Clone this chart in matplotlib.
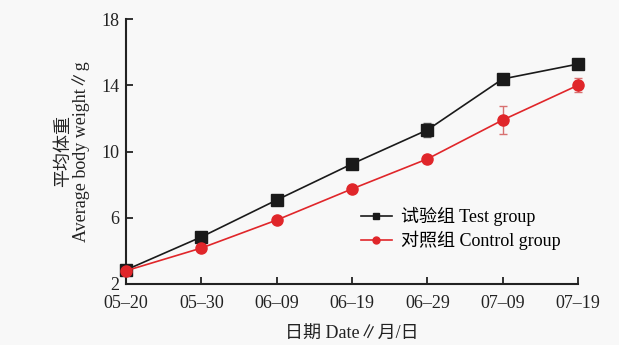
import matplotlib
matplotlib.use("Agg")
import matplotlib.pyplot as plt
from matplotlib.lines import Line2D

dates = ["05\u201320", "05\u201330", "06\u201309", "06\u201319", "06\u201329", "07\u201309", "07\u201319"]
test_vals = [2.85, 4.84, 7.07, 9.25, 11.3, 14.38, 15.28]
test_err = [0.15, 0.1, 0.1, 0.1, 0.4, 0.1, 0.1]
ctrl_vals = [2.8, 4.17, 5.86, 7.74, 9.55, 11.9, 14.0]
ctrl_err = [0.1, 0.1, 0.1, 0.1, 0.25, 0.85, 0.42]
yticks = [2, 6, 10, 14, 18]
labels = ['试验组 Test group', '对照组 Control group']

plt.rcParams['font.family'] = ['Liberation Serif', 'Noto Sans CJK SC', 'DejaVu Sans']

fig = plt.figure(figsize=(6.19, 3.45), dpi=100, facecolor='#f8f8f8')
ax = fig.add_axes([126/619, 1-284/345, (578-126)/619, (284-19)/345])
ax.set_facecolor('#f8f8f8')
x = list(range(len(dates)))

ax.errorbar(x, test_vals, yerr=test_err, color='#1a1a1a', marker='s', markersize=8,
            linewidth=1.2, ecolor='#555555', elinewidth=1, capsize=3, zorder=3, clip_on=False)
ax.errorbar(x, ctrl_vals, yerr=ctrl_err, color='#e0262a', marker='o', markersize=8,
            linewidth=1.2, ecolor='#d87070', elinewidth=1, capsize=3, zorder=4, clip_on=False)

ax.set_xlim(0, len(dates) - 1)
ax.set_ylim(2, 18)
ax.set_xticks(x)
ax.set_xticklabels(dates)
ax.set_yticks(yticks)
for s in ['top', 'right']:
    ax.spines[s].set_visible(False)
for s in ['left', 'bottom']:
    ax.spines[s].set_linewidth(1.5)
    ax.spines[s].set_color('#222222')
ax.tick_params(direction='in', length=5, width=1.3, labelsize=13, colors='#222222')
ax.tick_params(axis='x', pad=8)
ax.tick_params(axis='y', pad=5)

ax.set_ylabel('平均体重\nAverage body weight\u2225g', fontsize=13, color='#222222', labelpad=8, linespacing=1.0)
ax.set_xlabel('日期 Date\u2225月/日', fontsize=13, color='#222222', labelpad=10)

handles = [Line2D([], [], color='#1a1a1a', marker='s', markersize=5, linewidth=1.2),
           Line2D([], [], color='#e0262a', marker='o', markersize=5, linewidth=1.2)]
ax.legend(handles, labels, loc='center left', bbox_to_anchor=(0.5, 0.21), frameon=False, fontsize=13,
          handlelength=1.7, labelspacing=0.25, borderpad=0, handletextpad=0.5)

fig.savefig('out.png', dpi=100, facecolor=fig.get_facecolor())
